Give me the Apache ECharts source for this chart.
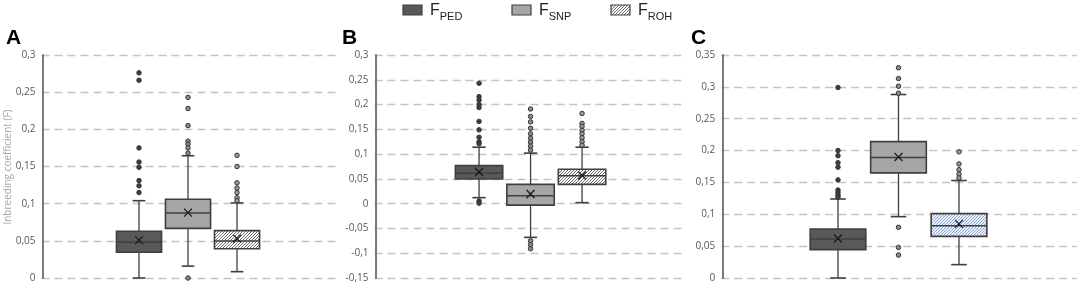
<!DOCTYPE html>
<html><head><meta charset="utf-8">
<script src="https://cdn.jsdelivr.net/npm/echarts@6/dist/echarts.min.js"></script>
<style>html,body{margin:0;padding:0;background:#fff}#c{width:1079px;height:287px}</style>
</head><body><div id="c"></div>
<script>
// ---------- DATA ----------
const groups = ['FPED', 'FSNP', 'FROH'];
const panelLetters = ['A', 'B', 'C'];
const yAxisTitle = 'Inbreeding coefficient (F)';

// [lower whisker, Q1, median, Q3, upper whisker]
const boxA = [[0, 0.0346, 0.048, 0.0628, 0.104], [0.016, 0.0668, 0.0874, 0.106, 0.1645], [0.0085, 0.0394, 0.0498, 0.0637, 0.101]];
const meanA = [0.051, 0.088, 0.053];
const outA = [
  [0.276, 0.266, 0.175, 0.156, 0.149, 0.131, 0.124, 0.115],
  [0, 0.243, 0.228, 0.205, 0.184, 0.18, 0.175, 0.168],
  [0.165, 0.15, 0.128, 0.121, 0.115, 0.108, 0.104]
];

const boxB = [[0.0121, 0.0498, 0.0613, 0.0767, 0.114], [-0.068, -0.003, 0.016, 0.039, 0.102], [0.002, 0.039, 0.0565, 0.0694, 0.114]];
const meanB = [0.064, 0.0196, 0.057];
const outB = [
  [0.243, 0.216, 0.209, 0.2, 0.194, 0.166, 0.149, 0.134, 0.125, 0.121, 0.0054, 0.001],
  [0.191, 0.176, 0.165, 0.152, 0.141, 0.132, 0.124, 0.116, 0.108, -0.075, -0.083, -0.091],
  [0.182, 0.162, 0.156, 0.148, 0.141, 0.133, 0.125, 0.118]
];

const boxC = [[0, 0.0445, 0.0612, 0.0769, 0.124], [0.0963, 0.165, 0.189, 0.214, 0.288], [0.021, 0.0654, 0.082, 0.101, 0.153]];
const meanC = [0.062, 0.19, 0.085];
const outC = [
  [0.299, 0.2, 0.192, 0.181, 0.174, 0.154, 0.138, 0.134, 0.130, 0.127],
  [0.33, 0.313, 0.301, 0.29, 0.0796, 0.048, 0.036],
  [0.198, 0.179, 0.17, 0.163, 0.157]
];

// y axis ticks per panel
const yMin = [0, -0.15, 0];
const yMax = [0.3, 0.3, 0.35];
const yStep = 0.05;

// ---------- STYLE ----------
function hatch(bg, fg) {
  const s = 3;
  const c = document.createElement('canvas');
  c.width = s; c.height = s;
  const g = c.getContext('2d');
  g.fillStyle = bg; g.fillRect(0, 0, s, s);
  g.strokeStyle = fg; g.lineWidth = 1;
  g.beginPath();
  g.moveTo(-1, s + 1); g.lineTo(s + 1, -1);
  g.moveTo(-1, 1); g.lineTo(1, -1);
  g.moveTo(s - 1, s + 1); g.lineTo(s + 1, s - 1);
  g.stroke();
  return { image: c, repeat: 'repeat' };
}
const hatchGray = hatch('#ffffff', '#6a6a6a');
const hatchBlue = hatch('#eef3fb', '#86a6d8');
const fills = [
  ['#595959', '#a6a6a6', hatchGray],
  ['#595959', '#a6a6a6', hatchGray],
  ['#595959', '#a6a6a6', hatchBlue]
];
const outFill = ['#404040', '#8c8c8c', '#9a9a9a'];
const lineCol = '#3f3f3f';
const axisCol = '#7a7a7a';

const grids = [
  { left: 41.5, width: 294.5, top: 55, height: 223 },
  { left: 374.5, width: 308.5, top: 55, height: 223 },
  { left: 721.2, width: 355.8, top: 55, height: 223 }
];
// horizontal layout per panel (box-spacing units): x range and first box position
const xMin = -0.03;
const xFirst = [1.96, 2.0, 1.9];
const xSpan = [5.98, 5.96, 5.85];

const boxes = [boxA, boxB, boxC];
const means = [meanA, meanB, meanC];
const outs = [outA, outB, outC];

function makeRender(fill, withAxis, p) {
  return function (params, api) {
    const x = api.value(0);
    const lo = api.coord([x, api.value(1)]);
    const q1 = api.coord([x, api.value(2)]);
    const md = api.coord([x, api.value(3)]);
    const q3 = api.coord([x, api.value(4)]);
    const hi = api.coord([x, api.value(5)]);
    const mn = api.coord([x, api.value(6)]);
    const bw = api.size([0.92, 0])[0];
    const cap = bw * 0.28;
    const cx = lo[0];
    const ls = { stroke: lineCol, lineWidth: 1.3 };
    const ch = [];
    if (withAxis) {
      // the panel's vertical axis line at x = 0
      const a0 = api.coord([0, yMin[p]]);
      const a1 = api.coord([0, yMax[p]]);
      ch.push({ type: 'line', shape: { x1: a0[0], y1: a0[1] + 0.5, x2: a1[0], y2: a1[1] }, style: { stroke: axisCol, lineWidth: 2 } });
    }
    ch.push({ type: 'line', shape: { x1: cx, y1: lo[1], x2: cx, y2: q1[1] }, style: ls });
    ch.push({ type: 'line', shape: { x1: cx, y1: q3[1], x2: cx, y2: hi[1] }, style: ls });
    ch.push({ type: 'line', shape: { x1: cx - cap / 2, y1: lo[1], x2: cx + cap / 2, y2: lo[1] }, style: { stroke: lineCol, lineWidth: 1.6 } });
    ch.push({ type: 'line', shape: { x1: cx - cap / 2, y1: hi[1], x2: cx + cap / 2, y2: hi[1] }, style: { stroke: lineCol, lineWidth: 1.6 } });
    ch.push({ type: 'rect', shape: { x: cx - bw / 2, y: q3[1], width: bw, height: q1[1] - q3[1] }, style: { fill: fill, stroke: lineCol, lineWidth: 1.6 } });
    ch.push({ type: 'line', shape: { x1: cx - bw / 2, y1: md[1], x2: cx + bw / 2, y2: md[1] }, style: { stroke: lineCol, lineWidth: 1.5 } });
    const m = 4;
    ch.push({ type: 'line', shape: { x1: cx - m, y1: mn[1] - m, x2: cx + m, y2: mn[1] + m }, style: { stroke: '#1a1a1a', lineWidth: 1.3 } });
    ch.push({ type: 'line', shape: { x1: cx - m, y1: mn[1] + m, x2: cx + m, y2: mn[1] - m }, style: { stroke: '#1a1a1a', lineWidth: 1.3 } });
    return { type: 'group', children: ch };
  };
}

const fmt = v => String(+v.toFixed(2)).replace('.', ',');

const option = {
  animation: false,
  grid: grids,
  xAxis: grids.map((g, i) => ({ type: 'value', gridIndex: i, min: xMin, max: xSpan[i], show: false })),
  yAxis: grids.map((g, i) => ({
    type: 'value', gridIndex: i, min: yMin[i], max: yMax[i], interval: yStep,
    axisLine: { show: true, onZero: true, lineStyle: { color: axisCol, width: 2 } },
    axisTick: { show: false },
    axisLabel: { formatter: fmt, color: '#595959', fontSize: 10, fontFamily: 'Open Sans', margin: 6 },
    splitLine: { show: true, lineStyle: { color: '#c4c4c4', width: 1.3, type: [8, 5] } }
  })),
  series: [],
  graphic: []
};

for (let p = 0; p < 3; p++) {
  for (let k = 0; k < 3; k++) {
    const b = boxes[p][k];
    const xp = xFirst[p] + k;
    option.series.push({
      type: 'custom', xAxisIndex: p, yAxisIndex: p, name: groups[k],
      renderItem: makeRender(fills[p][k], k === 0, p),
      clip: false,
      data: [[xp, b[0], b[1], b[2], b[3], b[4], means[p][k]]],
      z: 3
    });
    option.series.push({
      type: 'scatter', xAxisIndex: p, yAxisIndex: p,
      symbolSize: 4.5,
      itemStyle: { color: outFill[k], borderColor: '#333', borderWidth: 1, opacity: 1 },
      data: outs[p][k].map(v => [xp, v]),
      z: 4
    });
  }
}

// panel letters
const letterX = [6, 342, 691];
panelLetters.forEach((L, i) => option.graphic.push({
  type: 'text', left: letterX[i], top: 28,
  style: { text: L, font: 'bold 21px "Liberation Sans", Arial, sans-serif', fill: '#000' }
}));

// y-axis title
option.graphic.push({
  type: 'text', x: 8, y: 167, rotation: Math.PI / 2,
  style: { text: yAxisTitle, font: '10px "Open Sans", sans-serif', fill: '#a6a6a6', align: 'center', verticalAlign: 'middle' }
});

// legend
const legX = [403, 512, 611];
const legFill = ['#595959', '#a6a6a6', hatchGray];
const legSub = ['PED', 'SNP', 'ROH'];
for (let k = 0; k < 3; k++) {
  option.graphic.push({
    type: 'rect', shape: { x: legX[k], y: 5, width: 19, height: 10 },
    style: { fill: legFill[k], stroke: '#3f3f3f', lineWidth: 1.2 }
  });
  option.graphic.push({
    type: 'text', x: legX[k] + 27, y: 1,
    style: {
      text: '{f|F}{s|' + legSub[k] + '}',
      rich: {
        f: { font: '16px "Liberation Sans", Arial, sans-serif', fill: '#222', verticalAlign: 'bottom', lineHeight: 18 },
        s: { font: '11px "Liberation Sans", Arial, sans-serif', fill: '#222', verticalAlign: 'bottom', lineHeight: 14, padding: [0, 0, -3, 0] }
      }
    }
  });
}

const chart = echarts.init(document.getElementById('c'), null, { renderer: 'canvas' });
chart.setOption(option);
</script>
</body></html>
